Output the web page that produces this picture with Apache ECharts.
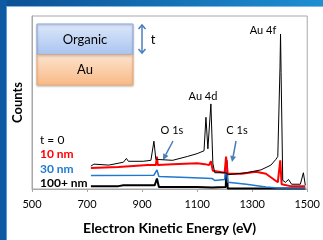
<!DOCTYPE html>
<html>
<head>
<meta charset="utf-8">
<script src="https://cdn.jsdelivr.net/npm/echarts@6/dist/echarts.min.js"></script>
<style>
  html, body { margin: 0; padding: 0; background: #fff; }
  #chart { width: 323px; height: 240px; }
</style>
</head>
<body>
<div id="chart"></div>
<script>
    // spectra, energy in eV and counts in arbitrary units
    var t0Energy = [714, 725, 732, 779, 832, 843, 850, 904, 932, 943, 950, 957, 1011, 1064, 1100, 1125, 1132, 1139, 1145, 1150, 1157, 1164, 1204, 1214, 1279, 1332, 1368, 1386, 1393, 1401, 1403, 1405, 1411, 1421, 1432, 1443, 1475, 1486, 1493];
    var t0Counts = [24, 26, 24, 25, 28, 32, 29, 29, 30, 50, 31, 29, 30, 34, 37, 40, 75, 42, 41, 89, 27, 17, 17, 15, 17, 20, 25, 31, 34, 127, 162, 122, 9, 7, 10, 5, 5, 17, 4];

    var nm10Energy = [714, 814, 921, 950, 954, 957, 1011, 1100, 1129, 1136, 1143, 1150, 1157, 1200, 1205, 1211, 1261, 1314, 1350, 1379, 1393, 1402, 1407, 1439, 1493];
    var nm10Counts = [22, 23, 25, 25, 34, 25, 26, 27, 26, 28, 25, 29, 19, 17, 34, 16, 16, 18, 16, 10, 7, 30, 5, 3, 3];

    var nm30Energy = [714, 943, 954, 961, 1064, 1154, 1164, 1200, 1205, 1211, 1279, 1350, 1393, 1493];
    var nm30Counts = [14, 14.5, 20, 13, 12, 11, 9, 10, 28, 7, 5, 2, 1, 1];

    var nm100Energy = [714, 814, 832, 946, 954, 961, 1100, 1154, 1204, 1207, 1211, 1493];
    var nm100Counts = [3, 3, 4, 4, 11, 2, 2, 1.5, 2, 30, 0.5, 0.5];

    var seriesNames = ['t = 0', '10 nm', '30 nm', '100+ nm'];
    var peakLabels = ['Au 4f', 'Au 4d', 'O 1s', 'C 1s'];

    function pairs(xs, ys) {
        return xs.map(function (x, i) { return [x, ys[i]]; });
    }

    var font = 'Lato, "Open Sans", sans-serif';
    var chart = echarts.init(document.getElementById('chart'), null, { renderer: 'canvas' });

    var blueArrow = '#4a7ebb';

    var option = {
        animation: false,
        backgroundColor: '#fff',
        grid: {
            left: 32, top: 16, right: 11, bottom: 43,
            show: true, borderColor: '#a8a8a8', borderWidth: 1
        },
        legend: {
            orient: 'vertical',
            left: 30,
            top: 128,
            icon: 'none',
            itemWidth: 0,
            itemHeight: 14,
            itemGap: 1.5,
            selectedMode: false,
            textStyle: { fontFamily: font, fontSize: 12 },
            data: [
                { name: seriesNames[0], textStyle: { color: '#000', fontWeight: 'normal' } },
                { name: seriesNames[1], textStyle: { color: '#ff0000', fontWeight: 'bold' } },
                { name: seriesNames[2], textStyle: { color: '#1f78d1', fontWeight: 'bold' } },
                { name: seriesNames[3], textStyle: { color: '#000', fontWeight: 'bold' } }
            ]
        },
        xAxis: {
            type: 'value',
            min: 500, max: 1500, interval: 200,
            name: 'Electron Kinetic Energy (eV)',
            nameLocation: 'middle',
            nameGap: 32,
            nameTextStyle: { fontFamily: font, fontSize: 14, fontWeight: 'bold', color: '#000' },
            axisLine: { lineStyle: { color: '#a8a8a8' } },
            axisTick: { show: true, length: 3, lineStyle: { color: '#a8a8a8' } },
            axisLabel: {
                fontFamily: font, fontSize: 11, color: '#000', margin: 10,
                formatter: function (v) { return String(v); }
            },
            splitLine: { show: false }
        },
        yAxis: {
            type: 'value',
            min: 0, max: 181,
            name: 'Counts',
            nameLocation: 'middle',
            nameGap: 8,
            nameTextStyle: { fontFamily: font, fontSize: 13, fontWeight: 'bold', color: '#000' },
            axisLine: { show: true, lineStyle: { color: '#a8a8a8' } },
            axisTick: { show: false },
            axisLabel: { show: false },
            splitLine: { show: false }
        },
        series: [
            {
                name: seriesNames[3], type: 'line', showSymbol: false, z: 2,
                lineStyle: { color: '#000', width: 2 }, itemStyle: { color: '#000' },
                data: pairs(nm100Energy, nm100Counts)
            },
            {
                name: seriesNames[2], type: 'line', showSymbol: false, z: 3,
                lineStyle: { color: '#1f78d1', width: 1.5 }, itemStyle: { color: '#1f78d1' },
                data: pairs(nm30Energy, nm30Counts)
            },
            {
                name: seriesNames[1], type: 'line', showSymbol: false, z: 4,
                lineStyle: { color: '#ff0000', width: 2 }, itemStyle: { color: '#ff0000' },
                data: pairs(nm10Energy, nm10Counts)
            },
            {
                name: seriesNames[0], type: 'line', showSymbol: false, z: 5,
                lineStyle: { color: '#000', width: 1 }, itemStyle: { color: '#000' },
                data: pairs(t0Energy, t0Counts)
            }
        ],
        graphic: [
            // slide frame
            {
                type: 'rect', shape: { x: 0, y: 0, width: 323, height: 7 },
                style: { fill: new echarts.graphic.LinearGradient(0, 0, 1, 0, [
                    { offset: 0, color: '#0b4f94' }, { offset: 1, color: '#1e8fd2' }]) }
            },
            { type: 'rect', shape: { x: 0, y: 6, width: 323, height: 1 }, style: { fill: '#7fb8e4' } },
            { type: 'rect', shape: { x: 0, y: 0, width: 7, height: 240 }, style: { fill: '#0e5aa2' } },
            { type: 'rect', shape: { x: 6, y: 6, width: 1, height: 234 }, style: { fill: '#5a9ad6' } },
            // layer diagram
            {
                type: 'rect', shape: { x: 37, y: 24, width: 96, height: 31 },
                style: {
                    fill: new echarts.graphic.LinearGradient(0, 0, 0, 1, [
                        { offset: 0, color: '#dde8fb' }, { offset: 1, color: '#a8c3ef' }]),
                    stroke: '#8aa8dc', lineWidth: 1,
                    shadowBlur: 2, shadowColor: 'rgba(0,0,0,0.25)', shadowOffsetY: 1
                }
            },
            {
                type: 'rect', shape: { x: 37, y: 55, width: 96, height: 30 },
                style: {
                    fill: new echarts.graphic.LinearGradient(0, 0, 0, 1, [
                        { offset: 0, color: '#fde4ce' }, { offset: 1, color: '#f8b985' }]),
                    stroke: '#f3ad78', lineWidth: 1,
                    shadowBlur: 2, shadowColor: 'rgba(0,0,0,0.25)', shadowOffsetY: 1
                }
            },
            {
                type: 'text', x: 85, y: 40,
                style: { text: 'Organic', fontFamily: font, fontSize: 13, fill: '#000', align: 'center', verticalAlign: 'middle' }
            },
            {
                type: 'text', x: 85, y: 70,
                style: { text: 'Au', fontFamily: font, fontSize: 13, fill: '#000', align: 'center', verticalAlign: 'middle' }
            },
            { type: 'line', shape: { x1: 142, y1: 25, x2: 142, y2: 53 }, style: { stroke: blueArrow, lineWidth: 1.5 } },
            { type: 'polyline', shape: { points: [[138.5, 29], [142, 25], [145.5, 29]] }, style: { stroke: blueArrow, lineWidth: 1.5, fill: null } },
            { type: 'polyline', shape: { points: [[138.5, 49], [142, 53], [145.5, 49]] }, style: { stroke: blueArrow, lineWidth: 1.5, fill: null } },
            {
                type: 'text', x: 153, y: 40,
                style: { text: 't', fontFamily: font, fontSize: 13, fill: '#000', align: 'center', verticalAlign: 'middle' }
            },
            // peak labels
            {
                type: 'text', x: 263, y: 30,
                style: { text: peakLabels[0], fontFamily: font, fontSize: 11, fill: '#000', align: 'center', verticalAlign: 'middle' }
            },
            {
                type: 'text', x: 203, y: 96,
                style: { text: peakLabels[1], fontFamily: font, fontSize: 11, fill: '#000', align: 'center', verticalAlign: 'middle' }
            },
            {
                type: 'text', x: 172, y: 130,
                style: { text: peakLabels[2], fontFamily: font, fontSize: 11, fill: '#000', align: 'center', verticalAlign: 'middle' }
            },
            {
                type: 'text', x: 237, y: 130,
                style: { text: peakLabels[3], fontFamily: font, fontSize: 11, fill: '#000', align: 'center', verticalAlign: 'middle' }
            },
            { type: 'line', shape: { x1: 173, y1: 141, x2: 165.8, y2: 154.7 }, style: { stroke: blueArrow, lineWidth: 1.5 } },
            { type: 'polygon', shape: { points: [[163, 160], [168.5, 156.1], [163.2, 153.3]] }, style: { fill: blueArrow } },
            { type: 'line', shape: { x1: 236, y1: 141, x2: 233.2, y2: 156.1 }, style: { stroke: blueArrow, lineWidth: 1.5 } },
            { type: 'polygon', shape: { points: [[232, 162], [236.1, 156.7], [230.2, 155.5]] }, style: { fill: blueArrow } }
        ]
    };

    chart.setOption(option);
</script>
</body>
</html>
